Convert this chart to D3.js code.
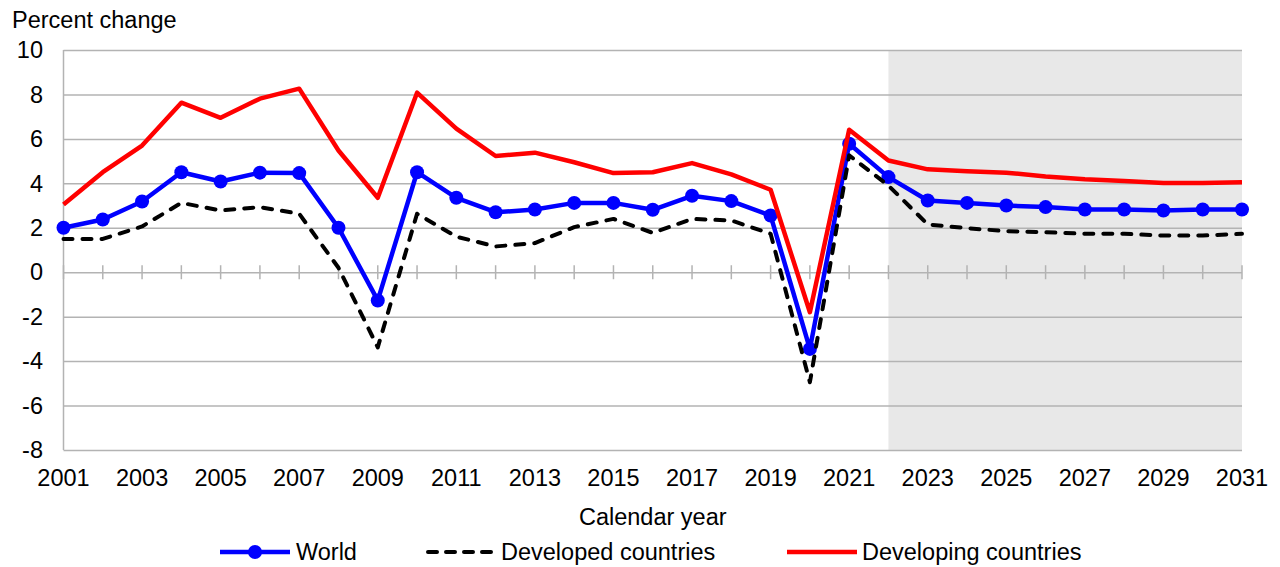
<!DOCTYPE html>
<html>
<head>
<meta charset="utf-8">
<script src="https://cdn.jsdelivr.net/npm/d3@7"></script>
<style>
  body { margin: 0; background: #fff; }
  text { font-family: "Liberation Sans", Arial, sans-serif; fill: #000; }
</style>
</head>
<body>
<div id="chart"></div>
<script>
// values
const years = d3.range(2001, 2032);
const world = [2.0, 2.37, 3.18, 4.5, 4.08, 4.48, 4.46, 2.0, -1.27, 4.5,
  3.35, 2.7, 2.82, 3.12, 3.12, 2.81, 3.44, 3.2, 2.55, -3.45,
  5.78, 4.28, 3.23, 3.12, 3.0, 2.93, 2.82, 2.82, 2.78, 2.82, 2.82];
const developed = [1.5, 1.5, 2.06, 3.12, 2.78, 2.93, 2.63, 0.2, -3.38, 2.63,
  1.6, 1.16, 1.31, 2.03, 2.4, 1.77, 2.4, 2.33, 1.73, -4.95,
  5.26, 3.9, 2.15, 1.98, 1.85, 1.8, 1.73, 1.73, 1.65, 1.65, 1.73];
const developing = [3.05, 4.5, 5.7, 7.63, 6.95, 7.81, 8.26, 5.48, 3.35, 8.08,
  6.46, 5.23, 5.38, 4.95, 4.46, 4.5, 4.91, 4.4, 3.71, -1.8,
  6.41, 5.03, 4.63, 4.54, 4.48, 4.31, 4.18, 4.1, 4.01, 4.01, 4.05];
const yTicks = [-8, -6, -4, -2, 0, 2, 4, 6, 8, 10];
const xLabels = d3.range(2001, 2032, 2);
const projectionStart = 2022;

const width = 1280, height = 567;
const margin = { top: 50, right: 38, bottom: 117, left: 63.5 };
const gridColor = "#b3b3b3";
const fontSize = "23.5px";

const svg = d3.select("#chart").append("svg")
  .attr("width", width)
  .attr("height", height);

const x = d3.scaleLinear()
  .domain([2001, 2031])
  .range([margin.left, width - margin.right]);

const y = d3.scaleLinear()
  .domain([-8, 10])
  .range([height - margin.bottom, margin.top]);

// projection shading
svg.append("rect")
  .attr("x", x(projectionStart))
  .attr("y", y(10))
  .attr("width", x(2031) - x(projectionStart))
  .attr("height", y(-8) - y(10))
  .attr("fill", "#e8e8e8");

// horizontal grid
svg.append("g")
  .attr("transform", `translate(${margin.left},0)`)
  .call(d3.axisLeft(y).tickValues(yTicks).tickSize(-(x(2031) - x(2001))).tickFormat(""))
  .call(g => g.select(".domain").remove())
  .selectAll("line")
  .attr("stroke", gridColor)
  .attr("stroke-width", 1.5);

// left axis line
svg.append("line")
  .attr("x1", x(2001)).attr("x2", x(2001))
  .attr("y1", y(10)).attr("y2", y(-8))
  .attr("stroke", gridColor)
  .attr("stroke-width", 1.5);

// y tick labels
svg.selectAll(".ylab")
  .data(yTicks)
  .enter()
  .append("text")
  .attr("class", "ylab")
  .attr("x", 43)
  .attr("y", d => y(d))
  .attr("dy", "0.35em")
  .attr("text-anchor", "end")
  .style("font-size", fontSize)
  .text(d => d);

// year ticks crossing the zero line
svg.selectAll(".ytick")
  .data(years)
  .enter()
  .append("line")
  .attr("x1", d => x(d)).attr("x2", d => x(d))
  .attr("y1", y(0) - 7).attr("y2", y(0) + 7)
  .attr("stroke", gridColor)
  .attr("stroke-width", 1.5);

// x labels
svg.selectAll(".xlab")
  .data(xLabels)
  .enter()
  .append("text")
  .attr("x", d => x(d))
  .attr("y", 486)
  .attr("text-anchor", "middle")
  .style("font-size", fontSize)
  .text(d => d);

svg.append("text")
  .attr("x", (x(2001) + x(2031)) / 2)
  .attr("y", 525)
  .attr("text-anchor", "middle")
  .style("font-size", fontSize)
  .text("Calendar year");

svg.append("text")
  .attr("x", 12)
  .attr("y", 28)
  .style("font-size", fontSize)
  .text("Percent change");

// series lines
const line = data => d3.line()
  .x((d, i) => x(years[i]))
  .y(d => y(d))(data);

svg.append("path")
  .attr("d", line(world))
  .attr("fill", "none")
  .attr("stroke", "#0000ff")
  .attr("stroke-width", 4.5)
  .attr("stroke-linejoin", "round");

svg.selectAll(".dot")
  .data(world)
  .enter()
  .append("circle")
  .attr("cx", (d, i) => x(years[i]))
  .attr("cy", d => y(d))
  .attr("r", 7)
  .attr("fill", "#0000ff");

svg.append("path")
  .attr("d", line(developed))
  .attr("fill", "none")
  .attr("stroke", "#000")
  .attr("stroke-width", 4)
  .attr("stroke-dasharray", "9,10")
  .attr("stroke-linecap", "round")
  .attr("stroke-linejoin", "round");

svg.append("path")
  .attr("d", line(developing))
  .attr("fill", "none")
  .attr("stroke", "#ff0000")
  .attr("stroke-width", 4.5)
  .attr("stroke-linejoin", "round");

// legend
const legY = 552;
const leg = svg.append("g");

leg.append("line")
  .attr("x1", 220).attr("x2", 290).attr("y1", legY).attr("y2", legY)
  .attr("stroke", "#0000ff").attr("stroke-width", 4.5);
leg.append("circle")
  .attr("cx", 255).attr("cy", legY).attr("r", 7).attr("fill", "#0000ff");
leg.append("text")
  .attr("x", 296).attr("y", legY).attr("dy", "0.35em")
  .style("font-size", fontSize).text("World");

leg.append("line")
  .attr("x1", 428).attr("x2", 493).attr("y1", legY).attr("y2", legY)
  .attr("stroke", "#000").attr("stroke-width", 4)
  .attr("stroke-dasharray", "9,9").attr("stroke-linecap", "round");
leg.append("text")
  .attr("x", 501).attr("y", legY).attr("dy", "0.35em")
  .style("font-size", fontSize).text("Developed countries");

leg.append("line")
  .attr("x1", 787).attr("x2", 857).attr("y1", legY).attr("y2", legY)
  .attr("stroke", "#ff0000").attr("stroke-width", 4.5);
leg.append("text")
  .attr("x", 862).attr("y", legY).attr("dy", "0.35em")
  .style("font-size", fontSize).text("Developing countries");
</script>
</body>
</html>
